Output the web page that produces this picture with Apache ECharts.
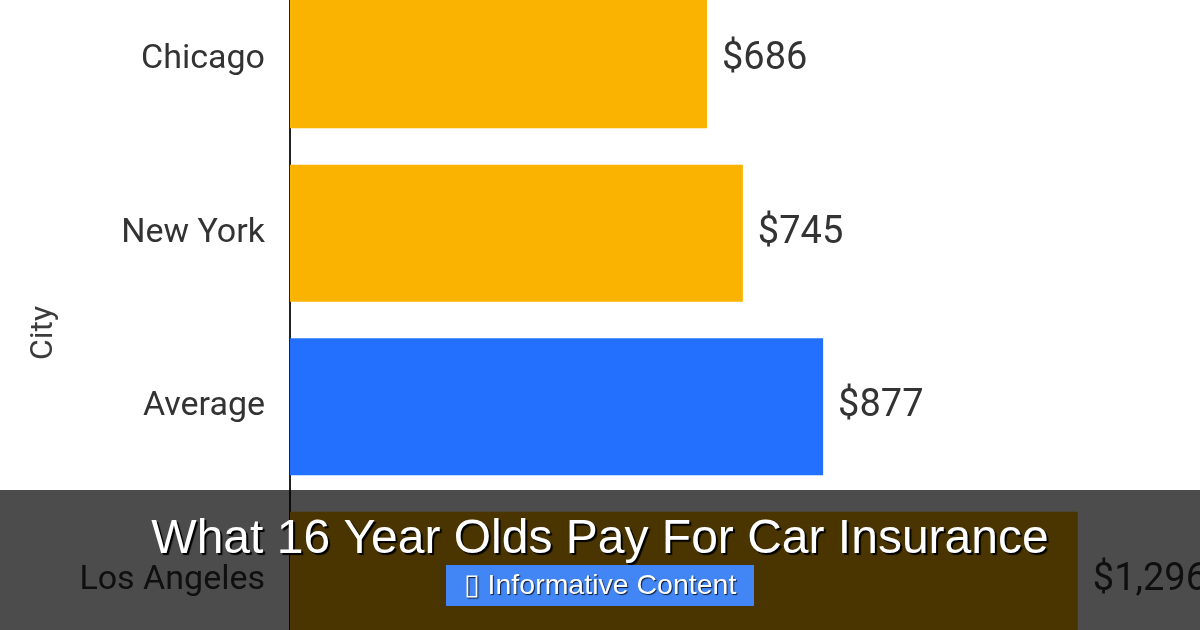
<!DOCTYPE html>
<html>
<head>
<meta charset="utf-8">
<script src="https://cdn.jsdelivr.net/npm/echarts@6/dist/echarts.min.js"></script>
<style>
  html, body { margin: 0; padding: 0; background: #fff; overflow: hidden; }
  #wrap { width: 1200px; height: 630px; overflow: hidden; position: relative; }
  /* the chart is taller than the window: the reference is cut off top and bottom */
  #chart { width: 1200px; height: 694px; position: absolute; left: 0; top: -27px; }
</style>
</head>
<body>
<div id="wrap"><div id="chart"></div></div>
<script>
// data
var cities = ['Chicago', 'New York', 'Average', 'Los Angeles']
var premiums = [686, 745, 877, 1296]
var highlight = 'Average'

var chart = echarts.init(document.getElementById('chart'))

var offsetY = 27

var option = {
  animation: false,
  backgroundColor: '#fff',
  grid: {
    left: 290,
    right: 0,
    top: 0,
    bottom: 0,
    containLabel: false
  },
  xAxis: {
    type: 'value',
    min: 0,
    max: 1497,
    show: false
  },
  yAxis: {
    type: 'category',
    inverse: true,
    data: cities,
    name: 'City',
    nameLocation: 'middle',
    nameGap: 230,
    nameRotate: 90,
    nameTextStyle: { fontFamily: 'Roboto', fontSize: 32, color: '#3c3c3c', padding: [0, 26, 0, 0] },
    axisLine: { show: true, lineStyle: { color: '#222', width: 2 } },
    axisTick: { show: false },
    axisLabel: { fontFamily: 'Roboto', fontSize: 34, color: '#333', margin: 25, padding: [6, 0, 0, 0] }
  },
  series: [
    {
      type: 'bar',
      barWidth: '79%',
      data: premiums.map(function (v, i) {
        return {
          value: v,
          itemStyle: { color: cities[i] === highlight ? '#2370FF' : '#F9B300' }
        }
      }),
      label: {
        show: true,
        position: 'right',
        distance: 15,
        fontFamily: 'Roboto',
        fontSize: 38,
        color: '#333',
        padding: [6, 0, 0, 0],
        formatter: function (p) {
          return '$' + p.value.toLocaleString('en-US')
        }
      }
    }
  ],
  graphic: [
    {
      type: 'rect',
      left: 0,
      top: 490 + offsetY,
      shape: { width: 1200, height: 140 },
      style: { fill: 'rgba(0,0,0,0.7)' },
      z: 100
    },
    {
      type: 'text',
      left: 'center',
      top: 516 + offsetY,
      style: {
        text: 'What 16 Year Olds Pay For Car Insurance',
        font: '48px "Liberation Sans", Arial, sans-serif',
        fill: '#fff',
        textShadowColor: '#000',
        textShadowOffsetX: 2,
        textShadowOffsetY: 2,
        textShadowBlur: 1
      },
      z: 101
    },
    {
      type: 'rect',
      left: 446,
      top: 565 + offsetY,
      shape: { width: 308, height: 41 },
      style: { fill: '#4285F4' },
      z: 101
    },
    {
      type: 'text',
      left: 'center',
      top: 572 + offsetY,
      style: {
        text: '\u25AF Informative Content',
        font: '28.5px "Liberation Sans", Arial, sans-serif',
        fill: '#fff',
        textShadowColor: 'rgba(0,0,0,0.8)',
        textShadowOffsetX: 1,
        textShadowOffsetY: 1,
        textShadowBlur: 1
      },
      z: 102
    }
  ]
}

chart.setOption(option)
</script>
</body>
</html>
